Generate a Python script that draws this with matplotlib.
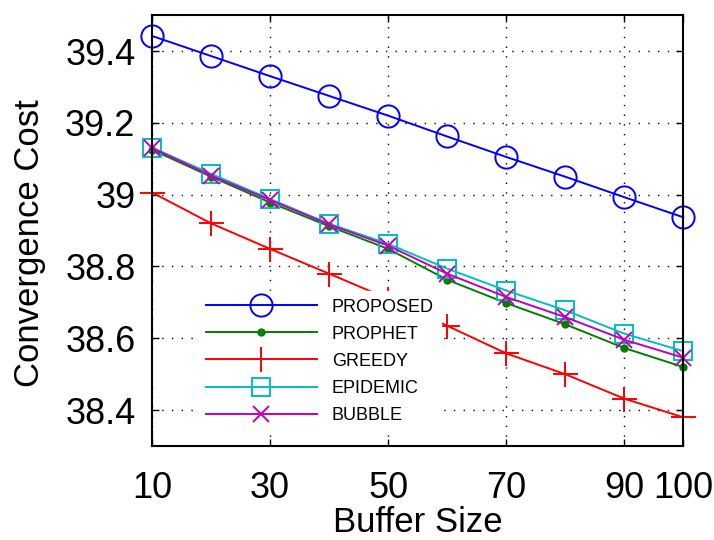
import matplotlib
matplotlib.use('Agg')
import matplotlib.pyplot as plt

# Data
buffer_size = [10, 20, 30, 40, 50, 60, 70, 80, 90, 100]
proposed = [39.442, 39.386, 39.330, 39.275, 39.220, 39.162, 39.105, 39.050, 38.993, 38.937]
prophet = [39.125, 39.050, 38.978, 38.912, 38.849, 38.763, 38.698, 38.639, 38.573, 38.520]
greedy = [39.006, 38.920, 38.849, 38.780, 38.710, 38.635, 38.558, 38.500, 38.432, 38.380]
epidemic = [39.131, 39.058, 38.988, 38.919, 38.863, 38.794, 38.733, 38.678, 38.613, 38.564]
bubble = [39.130, 39.053, 38.985, 38.917, 38.858, 38.780, 38.715, 38.659, 38.596, 38.546]

x_ticks = [10, 30, 50, 70, 90, 100]
y_ticks = [38.4, 38.6, 38.8, 39.0, 39.2, 39.4]
y_tick_labels = ['38.4', '38.6', '38.8', '39', '39.2', '39.4']

plt.rcParams['font.family'] = ['Liberation Sans', 'DejaVu Sans']

fig = plt.figure(figsize=(7.14, 5.40), dpi=100)
ax = fig.add_axes([0.213, 0.174, 0.744, 0.798])

lw = 1.4
common = dict(lw=lw, clip_on=False)
ax.plot(buffer_size, proposed, color='#0000ff', marker='o', ms=16,
        mfc='none', mew=1.4, label='PROPOSED', **common)
ax.plot(buffer_size, prophet, color='#008000', marker='o', ms=5,
        mfc='#008000', mec='#008000', label='PROPHET', **common)
ax.plot(buffer_size, greedy, color='#ff0000', marker='+', ms=18,
        mew=1.4, label='GREEDY', **common)
ax.plot(buffer_size, epidemic, color='#00bfbf', marker='s', ms=13,
        mfc='none', mew=1.4, label='EPIDEMIC', **common)
ax.plot(buffer_size, bubble, color='#bf00bf', marker='x', ms=11,
        mew=1.4, label='BUBBLE', **common)

ax.set_xlim(10, 100)
ax.set_ylim(38.3, 39.5)
ax.set_xticks(x_ticks)
ax.set_xticklabels([str(t) for t in x_ticks])
ax.set_yticks(y_ticks)
ax.set_yticklabels(y_tick_labels)

ax.tick_params(direction='in', length=5, width=1, labelsize=26,
               top=True, right=True)
ax.tick_params(axis='x', pad=18)
ax.tick_params(axis='y', pad=12)
for spine in ax.spines.values():
    spine.set_linewidth(1.5)
    spine.set_zorder(5)

ax.grid(True, color='black', linestyle=(0, (1, 6)), linewidth=1)
ax.set_axisbelow(True)

ax.set_xlabel('Buffer Size', fontsize=25)
ax.set_ylabel('Convergence Cost', fontsize=25)
ax.xaxis.set_label_coords(0.5, -0.14)
ax.yaxis.set_label_coords(-0.2, 0.47)

leg = ax.legend(loc='upper left', bbox_to_anchor=(0.07, 0.38), fontsize=13,
                handlelength=6.2, handletextpad=0.8, labelspacing=0.56,
                frameon=True, fancybox=False, framealpha=1,
                borderpad=0.4)
leg.get_frame().set_edgecolor('white')
leg.get_frame().set_facecolor('white')
leg.set_zorder(4)

fig.savefig('out.png', dpi=100)
